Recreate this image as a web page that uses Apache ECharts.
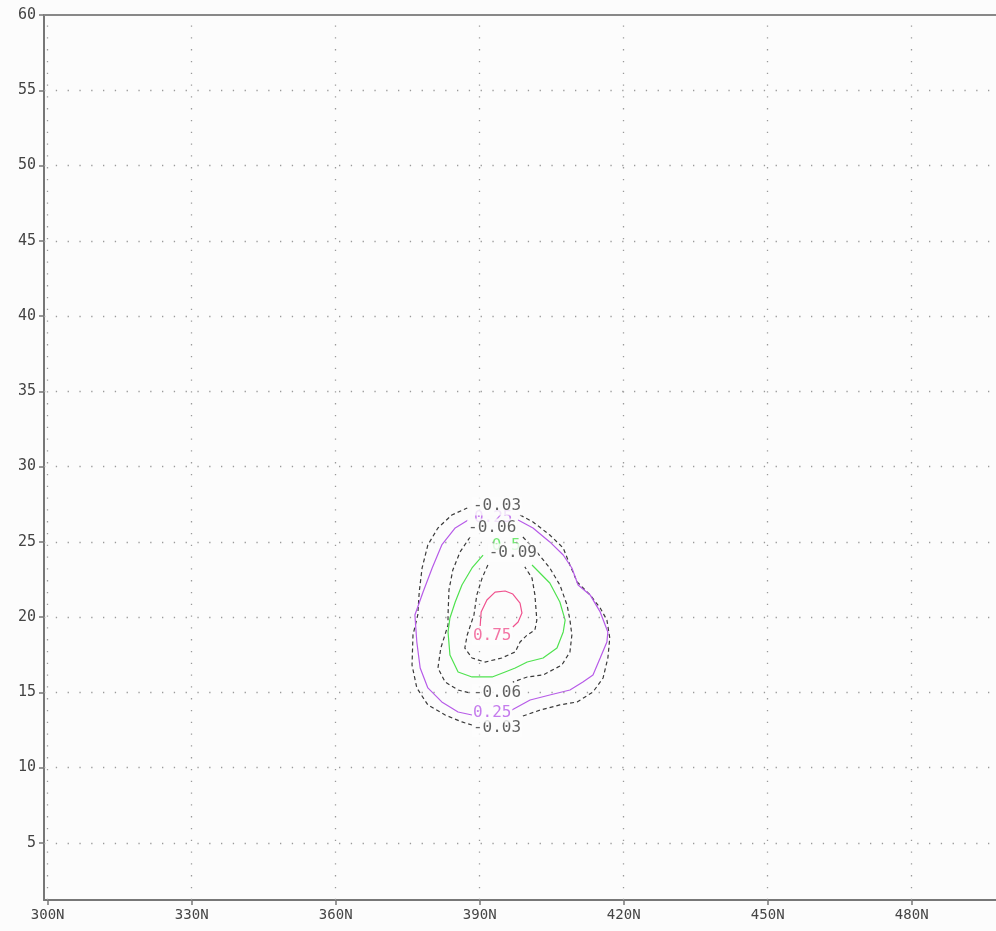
<!DOCTYPE html>
<html>
<head>
<meta charset="utf-8">
<script src="https://cdn.jsdelivr.net/npm/echarts@6/dist/echarts.min.js"></script>
<style>
html,body{margin:0;padding:0;background:#fcfcfc;}
#chart{width:996px;height:931px;}
</style>
</head>
<body>
<div id="chart"></div>
<script>
// Axis ticks
const xTicks = [300, 330, 360, 390, 420, 450, 480];
const yTicks = [5, 10, 15, 20, 25, 30, 35, 40, 45, 50, 55, 60];
const xRange = [299.23, 497.56];
const yRange = [1.2, 60];

// Contour -0.03 (dashed), two pieces split by labels
const c003Right = [[398.4,26.78],[401.1,26.32],[404.6,25.45],[407.4,24.59],[408.8,23.46],[410.3,22.33],[413.0,21.47],[415.1,20.60],[416.5,19.80],[417.1,18.61],[416.7,17.28],[415.7,15.95],[413.6,15.02],[410.3,14.36],[406.7,14.16],[402.6,13.82],[398.4,13.36]];
const c003Left = [[388.4,12.83],[386.3,13.03],[382.8,13.49],[379.2,14.16],[376.9,15.29],[375.9,16.81],[376.1,18.81],[377.1,20.14],[377.4,21.66],[378.0,23.26],[379.2,24.79],[381.3,25.92],[384.2,26.78],[387.4,27.25]];

// Contour 0.25 (purple)
const c025Right = [[398.0,26.45],[401.1,25.92],[404.6,24.99],[407.4,24.12],[409.2,23.26],[410.5,22.13],[413.0,21.47],[415.1,20.34],[416.7,19.01],[416.5,18.34],[415.1,17.28],[413.6,16.15],[411.5,15.68],[408.8,15.15],[404.6,14.82],[400.5,14.49],[396.7,13.82]];
const c025Left = [[388.4,13.49],[385.5,13.69],[382.1,14.36],[379.2,15.29],[377.6,16.61],[376.9,18.34],[376.5,20.14],[378.2,21.66],[380.1,23.26],[382.1,24.79],[384.9,25.92],[387.6,26.45]];

// Contour -0.06 (dashed)
const c006Right = [[399.0,25.32],[401.9,24.32],[404.6,23.26],[406.7,22.13],[408.2,20.80],[408.8,19.80],[409.2,18.81],[408.8,17.68],[407.1,16.81],[403.2,16.15],[399.9,16.02],[396.9,15.68]];
const c006Left = [[388.0,25.32],[385.9,24.32],[384.4,23.13],[383.6,21.80],[383.4,20.14],[383.4,19.47],[381.9,17.94],[381.3,16.61],[382.8,15.68],[385.5,15.15],[388.0,14.95]];

// Contour 0.5 (green)
const c05 = [[390.7,24.12],[388.4,23.26],[386.3,22.13],[384.9,21.00],[383.8,19.94],[383.4,19.01],[383.8,17.48],[385.5,16.35],[388.4,16.02],[392.6,16.02],[395.3,16.35],[397.4,16.61],[399.9,17.01],[403.2,17.28],[406.1,17.94],[407.4,19.01],[407.8,19.80],[406.7,21.00],[404.6,22.26],[400.9,23.46]];

// Contour -0.09 (dashed)
const c009 = [[391.7,23.46],[390.5,22.59],[389.4,21.47],[388.8,20.14],[387.4,18.81],[386.9,17.94],[388.4,17.28],[391.1,17.01],[394.6,17.28],[397.4,17.68],[398.4,18.34],[399.9,18.81],[401.5,19.14],[401.9,19.80],[401.5,21.47],[400.9,22.59],[399.4,23.33]];

// Contour 0.75 (pink)
const c075 = [[390.1,19.40],[390.3,20.34],[391.5,21.13],[393.2,21.66],[395.3,21.73],[396.9,21.53],[398.4,20.93],[398.8,20.27],[398.0,19.67],[396.9,19.34]];

// Contour labels
const blackLabels = [[393.6,27.38,'-0.03'],[392.6,25.92,'-0.06'],[396.9,24.26,'-0.09'],[393.6,14.95,'-0.06'],[393.6,12.63,'-0.03']];
const purpleLabels = [[392.6,13.62,'0.25']];
const pinkLabels = [[392.6,18.74,'0.75']];
const hiddenPurpleLabels = [[392.8,26.62,'0.25']];
const hiddenGreenLabels = [[395.5,24.72,'0.5']];

const BLACK = '#3a3a3a', PURPLE = '#b75be8', GREEN = '#4fe24f', PINK = '#f0528e';
const FONT = "'DejaVu Sans Mono', monospace";
const BG = '#fcfcfc';

function contour(data, color, dashed) {
  return {
    type: 'line', data: data, showSymbol: false, symbol: 'none', z: 2, silent: true,
    lineStyle: { color: color, width: 1.2, type: dashed ? [4, 3] : 'solid' },
    animation: false
  };
}
function labels(data, color, z, bg) {
  return {
    type: 'scatter', data: data, symbolSize: 1, itemStyle: { color: 'rgba(0,0,0,0)' }, z: z, silent: true,
    label: {
      show: true, position: 'inside', formatter: p => p.data[2],
      color: color, fontFamily: FONT, fontSize: 16, lineHeight: 15,
      backgroundColor: bg ? BG : 'transparent', padding: bg ? [2, 1, 2, 1] : [0, 1]
    },
    animation: false
  };
}

const chart = echarts.init(document.getElementById('chart'), null, { renderer: 'canvas' });
const dotted = { color: '#9a9a9a', width: 1.3, type: [1.3, 10.5] };

chart.setOption({
  backgroundColor: BG,
  animation: false,
  grid: { left: 44, right: 0, top: 15, bottom: 31, containLabel: false },
  xAxis: [{
    type: 'value', min: xRange[0], max: xRange[1], position: 'bottom',
    axisLine: { show: true, lineStyle: { color: '#777', width: 2 } },
    axisTick: { show: true, customValues: xTicks, length: 5, lineStyle: { color: '#777', width: 1.5 } },
    axisLabel: { customValues: xTicks, formatter: v => v + 'N', color: '#444', fontFamily: FONT, fontSize: 14, margin: 8 },
    splitLine: { show: false }
  }, {
    type: 'value', min: xRange[0], max: xRange[1], position: 'top',
    axisLine: { show: true, lineStyle: { color: '#888', width: 2 } },
    axisTick: { show: false }, axisLabel: { show: false }, splitLine: { show: false }
  }],
  yAxis: [{
    type: 'value', min: yRange[0], max: yRange[1],
    axisLine: { show: true, lineStyle: { color: '#777', width: 2 } },
    axisTick: { show: true, customValues: yTicks, length: 5, lineStyle: { color: '#777', width: 1.5 } },
    axisLabel: { customValues: yTicks, color: '#444', fontFamily: FONT, fontSize: 15, margin: 8 },
    splitLine: { show: false }
  }],
  series: [
    {
      type: 'line', data: [], silent: true, z: 1,
      markLine: {
        silent: true, symbol: ['none', 'none'], label: { show: false }, animation: false,
        lineStyle: dotted,
        data: xTicks.map(v => ({ xAxis: v })).concat(yTicks.filter(v => v < 60).map(v => ({ yAxis: v })))
      }
    },
    contour(c003Right, BLACK, true), contour(c003Left, BLACK, true),
    contour(c025Right, PURPLE, false), contour(c025Left, PURPLE, false),
    contour(c006Right, BLACK, true), contour(c006Left, BLACK, true),
    contour(c05, GREEN, false),
    contour(c009, BLACK, true),
    contour(c075, PINK, false),
    labels(hiddenPurpleLabels, PURPLE, 3, false),
    labels(hiddenGreenLabels, GREEN, 3, false),
    labels(blackLabels, BLACK, 5, true),
    labels(purpleLabels, PURPLE, 5, true),
    labels(pinkLabels, PINK, 5, true)
  ]
});
</script>
</body>
</html>
